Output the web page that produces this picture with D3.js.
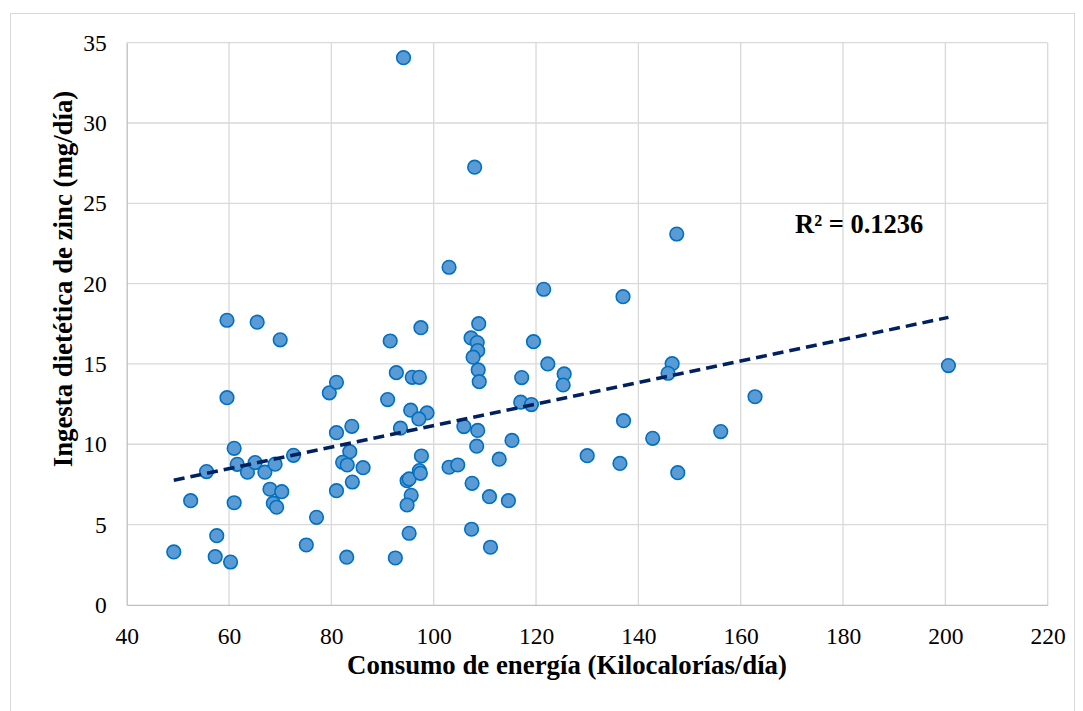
<!DOCTYPE html>
<html>
<head>
<meta charset="utf-8">
<script src="https://cdn.jsdelivr.net/npm/d3@7"></script>
<style>
  html, body { margin: 0; padding: 0; background: #fff; }
  svg { display: block; }
</style>
</head>
<body>
<svg id="chart" width="1083" height="711"></svg>
<script>
// Energy intake (Kilocalorías/día) and zinc intake (mg/día)
const energia = [
  49.2, 52.5, 55.6, 57.6, 57.3, 60.3, 59.6, 65.5, 70.0, 59.6,
  61.0, 61.6, 63.6, 65.1, 67.0, 69.0, 72.6, 68.0, 70.3, 68.65,
  69.3, 61.0, 77.1, 75.1, 83.0, 92.5, 79.6, 81.0, 81.0, 84.0,
  83.6, 82.2, 83.1, 86.2, 81.0, 84.1, 91.5, 92.7, 91.0, 93.5,
  95.8, 97.2, 95.5, 98.7, 97.1, 97.5, 94.1, 103.0, 108.0, 108.8,
  107.3, 108.5, 108.6, 107.7, 108.7, 108.9, 105.9, 108.6, 108.4, 97.6,
  94.8, 95.2, 97.2, 97.4, 95.6, 94.8, 95.2, 103.0, 104.7, 107.5,
  110.9, 114.6, 112.8, 107.4, 111.1, 115.3, 117.0, 119.1, 117.2, 119.5,
  121.5, 122.3, 125.5, 125.3, 137.0, 147.5, 146.6, 145.8, 162.8, 137.1,
  142.8, 156.1, 130.0, 136.4, 147.7, 200.6
];
const zinc = [
  3.3, 6.49, 8.3, 4.31, 3.0, 2.67, 17.72, 17.6, 16.5, 12.9,
  9.75, 8.75, 8.26, 8.86, 8.26, 8.76, 9.31, 7.2, 7.05, 6.33,
  6.08, 6.36, 5.45, 3.73, 2.97, 2.92, 13.2, 13.86, 10.72, 11.12,
  9.54, 8.88, 8.71, 8.54, 7.11, 7.65, 16.43, 14.46, 12.78, 11.0,
  14.17, 14.17, 12.12, 11.95, 11.58, 17.26, 34.07, 21.02, 27.25, 17.51,
  16.62, 16.33, 15.83, 15.42, 14.63, 13.9, 11.1, 10.86, 9.88, 9.27,
  7.73, 7.84, 8.36, 8.19, 6.82, 6.22, 4.46, 8.57, 8.71, 7.57,
  6.74, 6.49, 9.07, 4.71, 3.59, 10.24, 12.62, 12.47, 14.15, 16.39,
  19.65, 15.0, 14.38, 13.69, 19.19, 23.09, 15.02, 14.42, 12.96, 11.47,
  10.37, 10.79, 9.29, 8.81, 8.23, 14.9
];
// Linear trendline endpoints (as drawn)
const trendX = [49.2, 200.6];
const trendY = [7.76, 17.9];
const xTicks = [40, 60, 80, 100, 120, 140, 160, 180, 200, 220];
const yTicks = [0, 5, 10, 15, 20, 25, 30, 35];
const r2Label = "R² = 0.1236";
const xTitle = "Consumo de energía (Kilocalorías/día)";
const yTitle = "Ingesta dietética de zinc (mg/día)";

const svg = d3.select("#chart");
const font = "'Liberation Serif', 'Times New Roman', serif";

// outer chart border
svg.append("rect")
  .attr("x", 10.5).attr("y", 13.5)
  .attr("width", 1064).attr("height", 720)
  .attr("fill", "#fff").attr("stroke", "#D9D9D9").attr("stroke-width", 1);

const L = 126.7, R = 1047.7, T = 42.7, B = 604.9;
const x = d3.scaleLinear().domain([40, 220]).range([L, R]);
const y = d3.scaleLinear().domain([0, 35]).range([B, T]);

// gridlines
const grid = svg.append("g");
grid.selectAll("line.v").data(xTicks.slice(1)).enter().append("line")
  .attr("x1", d => x(d)).attr("x2", d => x(d))
  .attr("y1", T).attr("y2", B)
  .attr("stroke", "#D9D9D9").attr("stroke-width", 1.3);
grid.selectAll("line.h").data(yTicks.slice(1)).enter().append("line")
  .attr("x1", L).attr("x2", R)
  .attr("y1", d => y(d)).attr("y2", d => y(d))
  .attr("stroke", "#D9D9D9").attr("stroke-width", 1.3);

// axes
const xAxis = d3.axisBottom(x).tickValues(xTicks).tickSize(0).tickPadding(22);
const gx = svg.append("g").attr("transform", `translate(0,${B})`).call(xAxis);
gx.select(".domain").attr("stroke", "#BFBFBF").attr("stroke-width", 1.3);
gx.selectAll("text").attr("font-family", font).attr("font-size", 23.5).attr("fill", "#000");

const yAxis = d3.axisLeft(y).tickValues(yTicks).tickSize(0).tickPadding(20);
const gy = svg.append("g").attr("transform", `translate(${L},0)`).call(yAxis);
gy.select(".domain").attr("stroke", "#BFBFBF").attr("stroke-width", 1.3);
gy.selectAll("text").attr("font-family", font).attr("font-size", 23.5).attr("fill", "#000");

// points
const pts = energia.map((e, i) => ({ e, z: zinc[i] }));
svg.append("g").selectAll("circle").data(pts).enter().append("circle")
  .attr("cx", d => x(d.e)).attr("cy", d => y(d.z)).attr("r", 6.8)
  .attr("fill", "#5B9BD5").attr("stroke", "#0070C0").attr("stroke-width", 1.6);

// trendline
const line = d3.line().x(d => x(d[0])).y(d => y(d[1]));
svg.append("path")
  .datum(trendX.map((v, i) => [v, trendY[i]]))
  .attr("d", line)
  .attr("fill", "none").attr("stroke", "#002060")
  .attr("stroke-width", 3.5).attr("stroke-dasharray", "11,6");

// R² label
svg.append("text")
  .attr("x", 795).attr("y", 233)
  .attr("font-family", font).attr("font-size", 26.5).attr("font-weight", "bold")
  .attr("fill", "#000").text(r2Label);

// axis titles
svg.append("text")
  .attr("x", 567).attr("y", 674).attr("text-anchor", "middle")
  .attr("font-family", font).attr("font-size", 26.8).attr("font-weight", "bold")
  .attr("fill", "#000").text(xTitle);

svg.append("text")
  .attr("transform", `translate(72,279) rotate(-90)`).attr("text-anchor", "middle")
  .attr("font-family", font).attr("font-size", 26.8).attr("font-weight", "bold")
  .attr("fill", "#000").text(yTitle);
</script>
</body>
</html>
